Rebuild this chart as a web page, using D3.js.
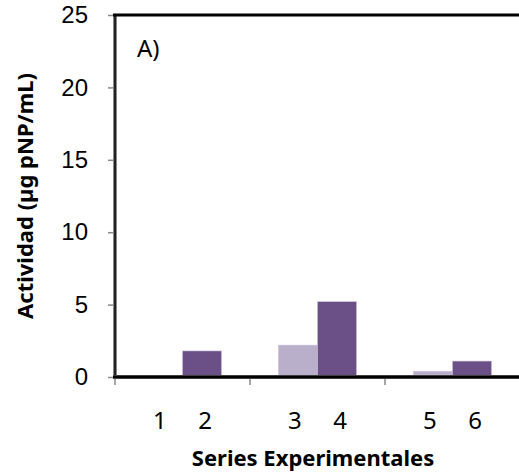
<!DOCTYPE html>
<html>
<head>
<meta charset="utf-8">
<script src="https://cdn.jsdelivr.net/npm/d3@7"></script>
<style>
  body { margin: 0; background: #fff; }
  text { font-family: "Noto Sans", "Open Sans", sans-serif; fill: #000; }
</style>
</head>
<body>
<div id="chart"></div>
<script>
const groups = ["g1", "g2", "g3"];
const seriesNames = ["claro", "oscuro"];
const barLabels = [["1", "2"], ["3", "4"], ["5", "6"]];
const lightValues = [0, 2.2, 0.4];
const darkValues = [1.8, 5.2, 1.1];
const yTicks = [0, 5, 10, 15, 20, 25];

const width = 519;
const height = 475;
const margin = { top: 15, left: 115, bottom: 98, right: 0 };
const iwidth = width - margin.left - margin.right;
const iheight = height - margin.top - margin.bottom;

const svg = d3.select("#chart").append("svg")
  .attr("width", width)
  .attr("height", height);

const g = svg.append("g")
  .attr("transform", `translate(${margin.left},${margin.top})`);

const y = d3.scaleLinear().domain([0, 25]).range([iheight, 0]);
const x0 = d3.scaleBand().domain(groups).range([0, 405]).padding(0);
const x1 = d3.scaleBand().domain(seriesNames).range([0, x0.bandwidth()])
  .paddingInner(0).paddingOuter(0.73);

const colors = { claro: "#b9afcb", oscuro: "#6a5086" };

const data = groups.map((grp, i) => ({
  grp,
  values: [
    { key: "claro", v: lightValues[i], label: barLabels[i][0] },
    { key: "oscuro", v: darkValues[i], label: barLabels[i][1] }
  ]
}));

// barras
const gg = g.selectAll(".grp").data(data).enter().append("g")
  .attr("class", "grp")
  .attr("transform", d => `translate(${x0(d.grp)},0)`);

gg.selectAll("rect").data(d => d.values).enter().append("rect")
  .attr("x", d => x1(d.key))
  .attr("y", d => y(d.v))
  .attr("width", x1.bandwidth())
  .attr("height", d => iheight - y(d.v))
  .style("fill", d => colors[d.key])
  .style("stroke", d => d.v > 0 ? "#c9c0d8" : "none")
  .style("stroke-width", 0.6);

gg.selectAll(".lbl").data(d => d.values).enter().append("text")
  .attr("class", "lbl")
  .attr("x", d => x1(d.key) + x1.bandwidth() / 2 + (d.key === "claro" ? -3 : 3))
  .attr("y", iheight + 52)
  .attr("text-anchor", "middle")
  .style("font-size", "24px")
  .text(d => d.label);

// eje y
const yAxis = g.append("g").call(d3.axisLeft(y).tickValues(yTicks).tickSize(7).tickPadding(20));
yAxis.select(".domain").remove();
yAxis.selectAll(".tick line").attr("stroke", "#888").attr("stroke-width", 1.5);
yAxis.selectAll(".tick text")
  .style("font-family", "'Liberation Sans', Arial, sans-serif")
  .style("font-size", "24px").attr("fill", "#000");

// marcas de categoria
g.selectAll(".xtick").data(groups).enter().append("line")
  .attr("x1", d => x0(d)).attr("x2", d => x0(d))
  .attr("y1", iheight).attr("y2", iheight + 8)
  .attr("stroke", "#888").attr("stroke-width", 1.5);

// marco
g.append("line").attr("x1", 0).attr("x2", 0).attr("y1", 0).attr("y2", iheight)
  .attr("stroke", "#888").attr("stroke-width", 4);
g.append("line").attr("x1", 0).attr("x2", 0).attr("y1", 0).attr("y2", iheight)
  .attr("stroke", "#000").attr("stroke-width", 1.5);
g.append("line").attr("x1", -2).attr("x2", iwidth).attr("y1", iheight).attr("y2", iheight)
  .attr("stroke", "#555").attr("stroke-width", 4);
g.append("line").attr("x1", -2).attr("x2", iwidth).attr("y1", iheight).attr("y2", iheight)
  .attr("stroke", "#000").attr("stroke-width", 2.5);
g.append("line").attr("x1", -2).attr("x2", iwidth).attr("y1", 0).attr("y2", 0)
  .attr("stroke", "#000").attr("stroke-width", 3);

g.append("text").attr("x", 22).attr("y", 42)
  .style("font-size", "24px").text("A)");

// titulos
svg.append("text")
  .attr("transform", `translate(33,${margin.top + iheight / 2}) rotate(-90)`)
  .attr("text-anchor", "middle")
  .style("font-size", "22px").style("font-weight", "bold")
  .text("Actividad (µg pNP/mL)");

svg.append("text")
  .attr("x", 313).attr("y", 466)
  .attr("text-anchor", "middle")
  .style("font-size", "22px").style("font-weight", "bold")
  .text("Series Experimentales");
</script>
</body>
</html>
